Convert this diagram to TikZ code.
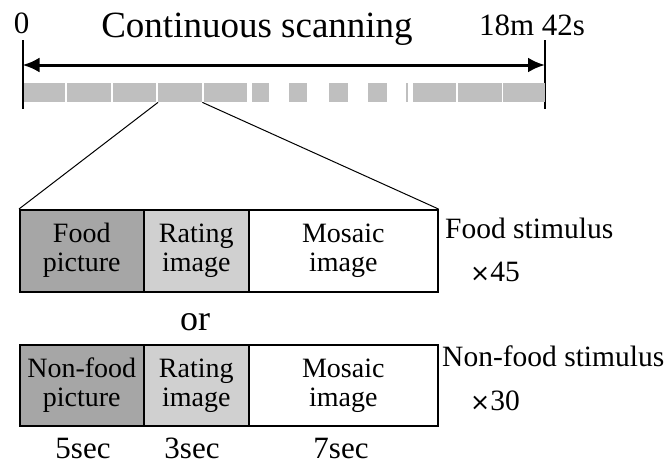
\documentclass[tikz,border=0pt]{standalone}
\usepackage{fontspec}
\setmainfont{Liberation Serif}
\newfontfamily\symfont{DejaVu Sans}
\usetikzlibrary{arrows.meta}
\definecolor{barg}{HTML}{BFBFBF}
\definecolor{darkc}{HTML}{A6A6A6}
\definecolor{lightc}{HTML}{D0D0D0}
\newcommand{\timesym}{{\symfont\fontsize{24}{26}\selectfont ×}}
\begin{document}
\begin{tikzpicture}[x=1pt,y=-1pt,
  lbl/.style={inner sep=0pt, anchor=base, font=\fontsize{31}{33}\selectfont},
  side/.style={inner sep=0pt, anchor=base west, font=\fontsize{29.5}{32}\selectfont},
  ttl/.style={inner sep=0pt, anchor=base, font=\fontsize{37}{40}\selectfont},
  seg/.style={fill=barg, inner sep=0pt, minimum height=19pt, anchor=north west},
  cell/.style={draw, line width=1.5pt, inner sep=0pt, anchor=north west, align=center, font=\fontsize{28}{29}\selectfont},
  tick/.style={line width=2pt},
  zoomline/.style={line width=1pt},
  spanarrow/.style={{Latex[length=17pt,width=15pt]}-{Latex[length=17pt,width=15pt]}, line width=3pt, shorten <=-1pt, shorten >=-1pt},
]
\useasboundingbox (0,0) rectangle (669,464);
% time axis
\node[lbl] (zero) at (21.5,33) {0};
\node[ttl] (title) at (257,37) {Continuous scanning};
\node[lbl] (end) at (532,35) {18m 42s};
\coordinate (lt) at (22.5,40);
\coordinate (lb) at (22.5,109);
\coordinate (rt) at (545,40);
\coordinate (rb) at (545,109);
\coordinate (al) at (23.5,65);
\coordinate (ar) at (544,65);
\draw[tick] (lt) -- (lb);
\draw[tick] (rt) -- (rb);
\draw[spanarrow] (al) -- (ar);
% bar
\foreach \a/\b [count=\i] in {24/65,67/111,113/156,158/202,204/247,252/269,289/307,329/348,368/387,406/408,413/456,458/502,503/545}{
  \pgfmathsetmacro\w{\b-\a}
  \node[seg, minimum width=\w pt] (s\i) at (\a,83) {};
}
% trial boxes
\node[cell, fill=darkc, minimum width=124pt, minimum height=82pt] (c1) at (19,209) {Food\\picture};
\node[cell, fill=lightc, minimum width=105pt, minimum height=82pt] (c2) at (143,209) {Rating\\image};
\node[cell, fill=white, minimum width=189pt, minimum height=82pt] (c3) at (248,209) {Mosaic\\image};
\node[cell, fill=darkc, minimum width=124pt, minimum height=81pt] (d1) at (19,344) {Non-food\\picture};
\node[cell, fill=lightc, minimum width=105pt, minimum height=81pt] (d2) at (143,344) {Rating\\image};
\node[cell, fill=white, minimum width=189pt, minimum height=81pt] (d3) at (248,344) {Mosaic\\image};
% zoom lines
\draw[zoomline] (s4.south west) -- (c1.north west);
\draw[zoomline] (s4.south east) -- (c3.north east);
% labels
\node[lbl, font=\fontsize{36}{38}\selectfont] (or) at (195,330) {or};
\node[side] (fs) at (445,238) {Food stimulus};
\node[side] (f45) at (470,281) {\timesym 45};
\node[side] (nfs) at (442,366) {Non-food stimulus};
\node[side] (n30) at (470,410) {\timesym 30};
\node[lbl] (t5) at (83,458) {5sec};
\node[lbl] (t3) at (192,458) {3sec};
\node[lbl] (t7) at (341,458) {7sec};
\end{tikzpicture}
\end{document}
